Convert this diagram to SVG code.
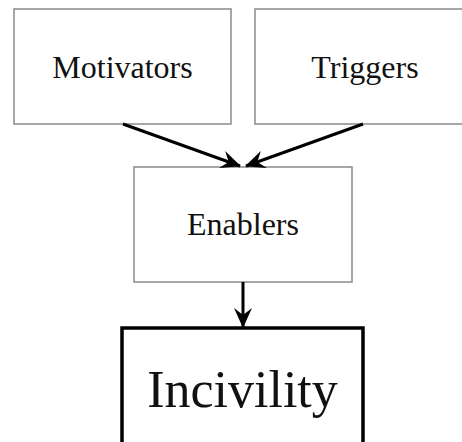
<svg xmlns="http://www.w3.org/2000/svg" width="462" height="442" viewBox="0 0 462 442">
<style>
.box{fill:#fff;stroke:#8a8a8a;stroke-width:1.5}
.big{fill:#fff;stroke:#000;stroke-width:3.5}
.t{font-family:"Liberation Serif","Times New Roman",serif;fill:#111;text-anchor:middle}
.edge{stroke:#000;stroke-width:3;fill:none;marker-end:url(#ah)}
</style>
<defs>
<marker id="ah" viewBox="0 0 20 20" refX="19" refY="10" markerWidth="20" markerHeight="20" markerUnits="userSpaceOnUse" orient="auto">
<path d="M0,1 L20,10 L0,19 L7,10 Z" fill="#000"/>
</marker>
</defs>
<rect width="462" height="442" fill="#fff"/>
<g id="motivators"><rect class="box" x="14" y="9" width="217" height="115"/><text class="t" x="122.5" y="78" font-size="32">Motivators</text></g>
<g id="triggers"><rect class="box" x="255" y="9" width="220" height="115"/><text class="t" x="365" y="78" font-size="32">Triggers</text></g>
<g id="enablers"><rect class="box" x="134" y="167" width="218" height="115"/><text class="t" x="243" y="235" font-size="32">Enablers</text></g>
<g id="incivility"><rect class="big" x="122" y="328" width="241" height="130"/><text class="t" x="242.5" y="407" font-size="52">Incivility</text></g>
<g id="connectors">
<line class="edge" x1="123" y1="124" x2="240" y2="166"/>
<line class="edge" x1="363" y1="124" x2="246" y2="166"/>
<line class="edge" x1="243" y1="282" x2="243" y2="327"/>
</g>
</svg>
